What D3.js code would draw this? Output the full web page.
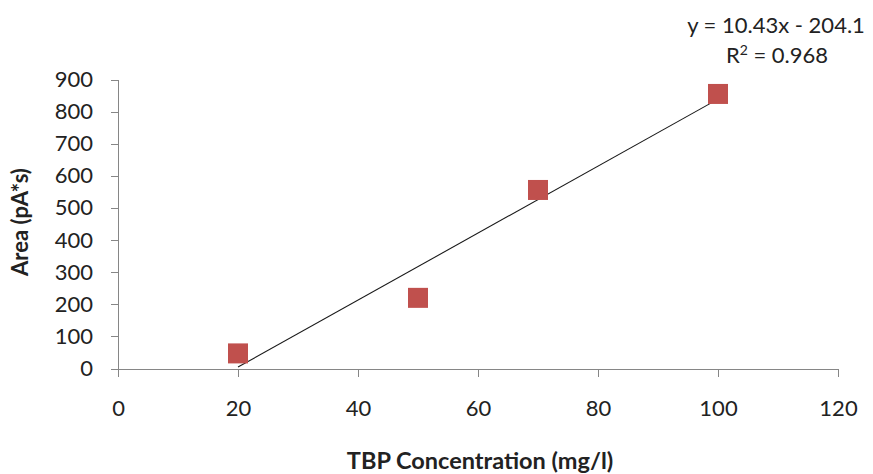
<!DOCTYPE html>
<html>
<head>
<meta charset="utf-8">
<script src="https://cdn.jsdelivr.net/npm/d3@7/dist/d3.min.js"></script>
<style>
  html, body { margin: 0; padding: 0; background: #fff; }
  svg { display: block; font-family: Lato, "Open Sans", sans-serif; }
  .axis path, .axis line { stroke: #868686; stroke-width: 1px; shape-rendering: crispEdges; }
  .axis text { fill: #222; font-size: 22px; font-family: Lato, "Open Sans", sans-serif; }
</style>
</head>
<body>
<div id="chart"></div>
<script>
// Data
const concentration = [20, 50, 70, 100];      // mg/l
const area = [47, 220, 556, 855];             // pA*s
const xTicks = [0, 20, 40, 60, 80, 100, 120];
const yTicks = [0, 100, 200, 300, 400, 500, 600, 700, 800, 900];
const trendSlope = 10.43;
const trendIntercept = -204.1;
const rSquared = '0.968';

const width = 873;
const height = 474;

const svg = d3.select('#chart')
  .append('svg')
  .attr('width', width)
  .attr('height', height);

svg.append('rect')
  .attr('width', width)
  .attr('height', height)
  .attr('fill', '#fff');

const x = d3.scaleLinear().domain([0, 120]).range([118, 838]);
const y = d3.scaleLinear().domain([0, 900]).range([368.5, 79.5]);

// Axes
svg.append('g')
  .attr('class', 'axis')
  .attr('transform', `translate(0,${y(0)})`)
  .call(d3.axisBottom(x).tickValues(xTicks).tickSize(8).tickSizeOuter(0).tickPadding(24));

svg.append('g')
  .attr('class', 'axis')
  .attr('transform', `translate(${x(0)},0)`)
  .call(d3.axisLeft(y).tickValues(yTicks).tickSize(7).tickSizeOuter(0).tickPadding(18));

// Trend line from the fitted equation
const xMin = d3.min(concentration);
const xMax = d3.max(concentration);
const trend = [xMin, xMax].map(v => [v, trendSlope * v + trendIntercept]);

svg.append('path')
  .datum(trend)
  .attr('fill', 'none')
  .attr('stroke', '#1a1a1a')
  .attr('stroke-width', 1.1)
  .attr('d', d3.line().x(d => x(d[0])).y(d => y(d[1])));

// Markers
const size = 20;
svg.selectAll('rect.pt')
  .data(concentration.map((c, i) => ({ c, a: area[i] })))
  .join('rect')
  .attr('class', 'pt')
  .attr('x', d => x(d.c) - size / 2)
  .attr('y', d => y(d.a) - size / 2)
  .attr('width', size)
  .attr('height', size)
  .attr('fill', '#c0504d');

// Trendline label
svg.append('text')
  .attr('x', 776)
  .attr('y', 33)
  .attr('text-anchor', 'middle')
  .attr('font-size', 22)
  .attr('fill', '#222')
  .text(`y = ${trendSlope}x - ${Math.abs(trendIntercept)}`);

const r2 = svg.append('text')
  .attr('x', 777)
  .attr('y', 63)
  .attr('text-anchor', 'middle')
  .attr('font-size', 22)
  .attr('fill', '#222');
r2.append('tspan').text('R');
r2.append('tspan').attr('font-size', 14).attr('dy', -8).text('2');
r2.append('tspan').attr('dy', 8).text(` = ${rSquared}`);

// Axis titles
svg.append('text')
  .attr('x', 480)
  .attr('y', 469)
  .attr('text-anchor', 'middle')
  .attr('font-size', 23.5)
  .attr('font-weight', 'bold')
  .attr('fill', '#222')
  .text('TBP Concentration (mg/l)');

svg.append('text')
  .attr('transform', 'translate(28,222) rotate(-90)')
  .attr('text-anchor', 'middle')
  .attr('font-size', 22)
  .attr('font-weight', 'bold')
  .attr('fill', '#222')
  .text('Area (pA*s)');
</script>
</body>
</html>
